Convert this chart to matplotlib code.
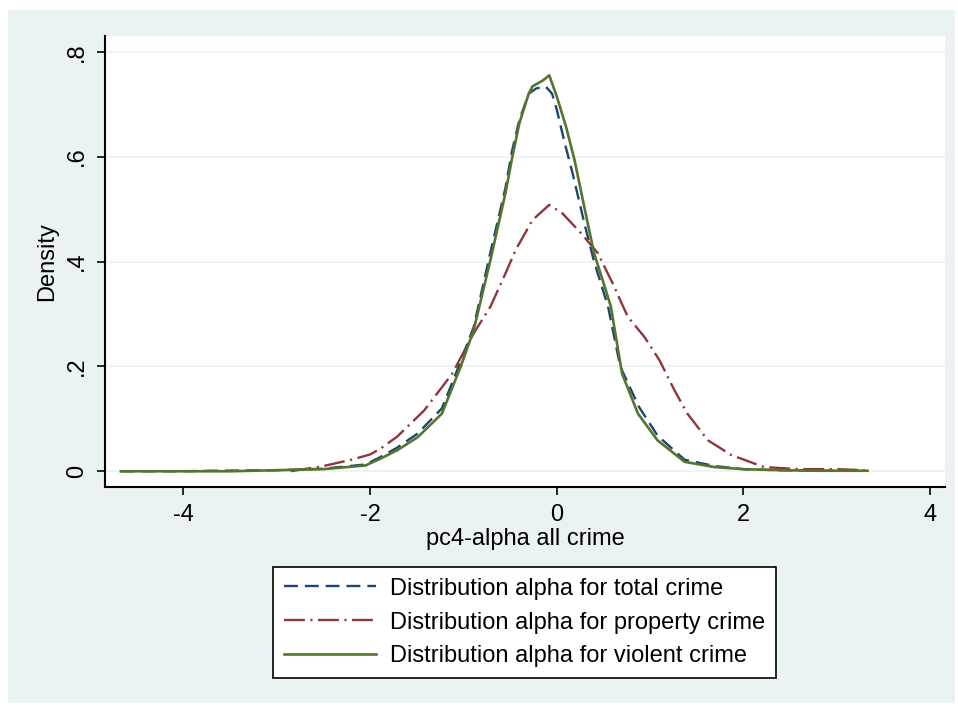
import matplotlib
matplotlib.use("Agg")
import matplotlib.pyplot as plt
from matplotlib.patches import Rectangle

# kernel density curves
total_x = [-4.67, -4.0, -3.7, -3.0, -2.5, -2.05, -1.89, -1.71, -1.49, -1.23, -1.05, -0.89,
           -0.72, -0.55, -0.48, -0.40, -0.30, -0.22, -0.12, -0.05, 0.0, 0.08, 0.17, 0.30,
           0.40, 0.55, 0.68, 0.88, 1.08, 1.37, 1.69, 2.0, 2.4, 2.8, 3.3]
total_y = [0.0, 0.0, 0.001, 0.002, 0.005, 0.013, 0.027, 0.045, 0.072, 0.120, 0.200, 0.275,
           0.41, 0.54, 0.61, 0.67, 0.72, 0.73, 0.734, 0.72, 0.69, 0.63, 0.568, 0.47,
           0.40, 0.314, 0.20, 0.123, 0.068, 0.022, 0.010, 0.004, 0.002, 0.001, 0.001]

prop_x = [-2.85, -2.5, -2.2, -2.0, -1.89, -1.71, -1.42, -1.12, -0.89, -0.71, -0.55, -0.44,
          -0.26, -0.08, 0.06, 0.26, 0.44, 0.60, 0.76, 0.94, 1.10, 1.26, 1.40, 1.62, 1.87,
          2.22, 2.6, 3.0, 3.3]
prop_y = [0.0, 0.010, 0.022, 0.032, 0.043, 0.066, 0.116, 0.186, 0.263, 0.314, 0.377, 0.422,
          0.479, 0.508, 0.492, 0.454, 0.416, 0.358, 0.295, 0.256, 0.212, 0.155, 0.110, 0.059,
          0.031, 0.008, 0.004, 0.004, 0.002]

viol_x = [-4.67, -4.0, -3.5, -3.0, -2.5, -2.05, -1.89, -1.71, -1.49, -1.23, -1.03, -0.89,
          -0.71, -0.55, -0.475, -0.40, -0.30, -0.26, -0.15, -0.08, 0.0, 0.10, 0.19, 0.30,
          0.40, 0.50, 0.58, 0.70, 0.87, 1.08, 1.37, 1.69, 2.0, 2.4, 2.8, 3.33]
viol_y = [0.0, 0.0, 0.0, 0.002, 0.004, 0.011, 0.024, 0.040, 0.065, 0.110, 0.199, 0.269,
          0.403, 0.53, 0.60, 0.664, 0.72, 0.734, 0.745, 0.755, 0.715, 0.657, 0.594, 0.50,
          0.416, 0.36, 0.314, 0.186, 0.110, 0.059, 0.018, 0.008, 0.004, 0.002, 0.001, 0.001]

labels = ["Distribution alpha for total crime",
          "Distribution alpha for property crime",
          "Distribution alpha for violent crime"]

xticks = [-4, -2, 0, 2, 4]
yticks = [0, 0.2, 0.4, 0.6, 0.8]
ytick_labels = ["0", ".2", ".4", ".6", ".8"]

plt.rcParams["font.family"] = ["Liberation Sans", "DejaVu Sans"]
plt.rcParams["lines.scale_dashes"] = False

W, H = 958, 705
fig = plt.figure(figsize=(W / 100, H / 100), dpi=100)
fig.patch.set_facecolor("white")
# stata-style graph region behind everything
bg = Rectangle((8 / W, 2 / H), 947 / W, 693 / H, transform=fig.transFigure,
               facecolor="#eaf2f3", edgecolor="none", zorder=-10)
fig.add_artist(bg)

ax = fig.add_axes([105 / W, 1 - 487 / H, 840 / W, 451 / H])
ax.set_zorder(1)
ax.set_facecolor("white")

ax.plot(total_x, total_y, color="#1a476f", lw=1.7, linestyle=(0, (10, 5)), label=labels[0])
ax.plot(prop_x, prop_y, color="#90353b", lw=1.7, linestyle=(0, (15, 4, 1.5, 4)), label=labels[1])
ax.plot(viol_x, viol_y, color="#55752f", lw=1.9, label=labels[2])

ax.set_xlim(-4.84, 4.16)
ax.set_ylim(-0.03, 0.83)
ax.set_xticks(xticks)
ax.set_xticklabels([str(t) for t in xticks])
ax.set_yticks(yticks)
ax.set_yticklabels(ytick_labels, rotation=90, va="center")
ax.grid(axis="y", color="#eaf2f3", lw=1.2)
ax.set_axisbelow(True)

for s in ["top", "right"]:
    ax.spines[s].set_visible(False)
for s in ["left", "bottom"]:
    ax.spines[s].set_linewidth(1.5)
ax.tick_params(direction="out", length=6, width=1.2, labelsize=17, pad=6)

ax.set_xlabel("pc4-alpha all crime", fontsize=17, labelpad=2)
ax.set_ylabel("Density", fontsize=17, labelpad=6)

leg = fig.legend(loc="center", bbox_to_anchor=(524.5 / W, 1 - 622.5 / H), fontsize=17,
                 frameon=True, fancybox=False, edgecolor="black", framealpha=1,
                 handlelength=3.9, handletextpad=0.6, labelspacing=0.5, borderpad=0.45,
                 borderaxespad=0)
leg.get_frame().set_linewidth(1.2)

fig.savefig("out.png", dpi=100, facecolor=fig.get_facecolor())
